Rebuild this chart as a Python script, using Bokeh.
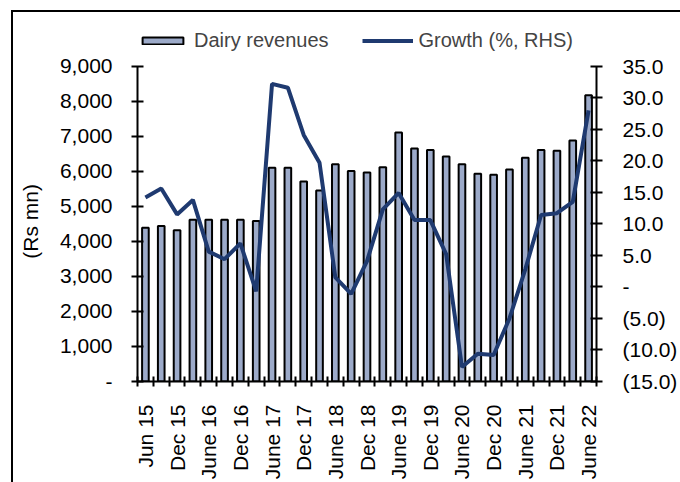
from bokeh.plotting import figure
from bokeh.models import (Range1d, LinearAxis, FixedTicker, Legend, LegendItem,
                          ColumnDataSource)
from bokeh.embed import file_html
from bokeh.resources import INLINE
import math

quarters = ["Jun 15", "Sep 15", "Dec 15", "Mar 16", "June 16", "Sep 16", "Dec 16", "Mar 17",
            "June 17", "Sep 17", "Dec 17", "Mar 18", "June 18", "Sep 18", "Dec 18", "Mar 19",
            "June 19", "Sep 19", "Dec 19", "Mar 20", "June 20", "Sep 20", "Dec 20", "Mar 21",
            "June 21", "Sep 21", "Dec 21", "Mar 22", "June 22"]
dairy_revenues = [4390, 4440, 4320, 4620, 4620, 4620, 4620, 4580,
                  6100, 6100, 5710, 5450, 6200, 6010, 5970, 6120,
                  7110, 6650, 6610, 6420, 6200, 5930, 5900, 6050,
                  6390, 6610, 6590, 6880, 8170]
growth = [14.2, 15.6, 11.5, 13.8, 5.6, 4.4, 6.9, -0.7,
          32.2, 31.6, 24.1, 19.7, 1.5, -1.1, 4.1, 12.3,
          14.9, 10.6, 10.6, 5.2, -12.7, -10.6, -10.8, -5.0,
          2.8, 11.4, 11.7, 13.5, 28.0]
left_ticks = [0, 1000, 2000, 3000, 4000, 5000, 6000, 7000, 8000, 9000]
right_ticks = [-15, -10, -5, 0, 5, 10, 15, 20, 25, 30, 35]

FONT = "Liberation Sans"
x = list(range(len(quarters)))
src = ColumnDataSource(dict(x=x, rev=dairy_revenues, g=growth))

# layout geometry (pixels): axis span and extra headroom in the frame for the legend
AXIS_PX = 317
FRAME_TOP = 20
AXIS_TOP = 66
head = (AXIS_TOP - FRAME_TOP) / AXIS_PX

l0, l1 = left_ticks[0], left_ticks[-1]
r0, r1 = right_ticks[0], right_ticks[-1]

p = figure(width=680, height=482, output_backend="svg", toolbar_location=None,
           x_range=Range1d(-0.5, len(quarters) - 0.5),
           y_range=Range1d(l0, l1 + head * (l1 - l0)),
           min_border_left=137, min_border_right=83, min_border_top=FRAME_TOP,
           min_border_bottom=99)
# outer chart frame (left and top edges), drawn behind a transparent canvas border
p.styles = {"box-shadow": "inset 11px 10px 0 0 white, inset 13px 12px 0 0 black"}
p.extra_y_ranges = {"g": Range1d(r0, r1 + head * (r1 - r0))}
p.outline_line_color = None
p.xgrid.visible = False
p.ygrid.visible = False
p.background_fill_color = "white"
p.border_fill_alpha = 0

bars = p.vbar(x="x", top="rev", width=0.42, source=src, fill_color="#9CAAC9",
              line_color="black", line_width=2)
line = p.line(x="x", y="g", source=src, y_range_name="g", line_color="#1F3A70", line_width=4)

def style_axis(ax, size="21px"):
    ax.axis_line_width = 2
    ax.axis_line_color = "black"
    ax.major_tick_line_width = 2
    ax.minor_tick_line_width = 2
    ax.major_tick_line_color = "black"
    ax.major_label_text_font = FONT
    ax.major_label_text_font_size = size
    ax.major_label_text_color = "black"
    ax.axis_label_text_font = FONT
    ax.axis_label_text_font_size = "21px"
    ax.axis_label_text_font_style = "normal"
    ax.axis_label_text_color = "black"

# x axis
xa = p.xaxis[0]
style_axis(xa)
xa.ticker = FixedTicker(ticks=x[::2], minor_ticks=[i - 0.5 for i in range(len(quarters) + 1)])
xa.major_label_overrides = {i: quarters[i] for i in x[::2]}
xa.major_tick_in = 0
xa.major_tick_out = 0
xa.minor_tick_in = 5
xa.minor_tick_out = 5
xa.minor_tick_line_color = "black"
xa.major_label_orientation = math.pi / 2
xa.major_label_standoff = 18

# left axis
ya = p.yaxis[0]
style_axis(ya)
ya.bounds = (l0, l1)
ya.ticker = FixedTicker(ticks=left_ticks, minor_ticks=[])
ya.major_label_overrides = {v: ("-" if v == 0 else f"{v:,}") for v in left_ticks}
ya.major_tick_in = 6
ya.major_tick_out = 6
ya.major_label_standoff = 19
# trailing no-break spaces keep the label centred on the axis span, not the taller frame
ya.axis_label = "(Rs mn)" + "\u00a0" * 7
ya.axis_label_standoff = 15

# right axis
ra = LinearAxis(y_range_name="g", bounds=(r0, r1))
style_axis(ra)
ra.ticker = FixedTicker(ticks=right_ticks, minor_ticks=[])
def fmt(v):
    if v == 0:
        return "-"
    if v < 0:
        return f"({abs(v):.1f})"
    return f"{v:.1f}"
ra.major_label_overrides = {v: fmt(v) for v in right_ticks}
ra.major_tick_in = 6
ra.major_tick_out = 6
ra.major_label_standoff = 20
p.add_layout(ra, "right")

legend = Legend(items=[LegendItem(label="Dairy revenues", renderers=[bars]),
                       LegendItem(label="Growth (%, RHS)", renderers=[line])],
                orientation="horizontal", location=(0, 329),
                label_text_font=FONT, label_text_font_size="20px",
                glyph_width=51, glyph_height=9, label_height=20,
                label_standoff=6, spacing=33, padding=0, margin=0,
                border_line_color=None, background_fill_alpha=0)
p.add_layout(legend, "center")

open("out.html", "w").write(file_html(p, INLINE))
